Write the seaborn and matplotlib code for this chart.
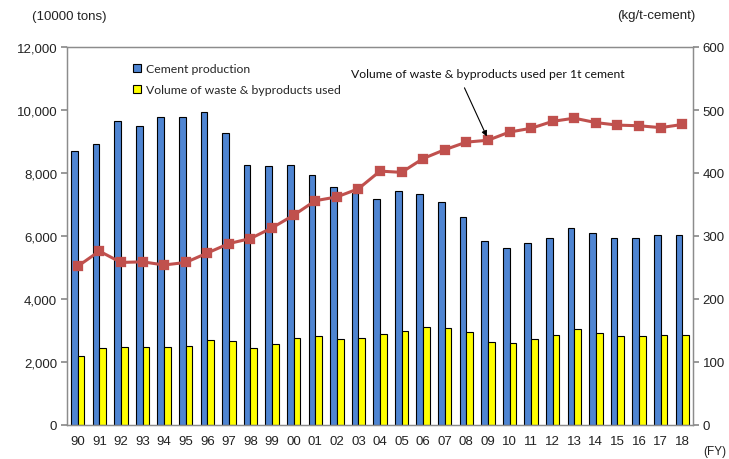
import numpy as np
import pandas as pd
import matplotlib
matplotlib.use("Agg")
import matplotlib.pyplot as plt
import seaborn as sns
from matplotlib.patches import Patch
from matplotlib.ticker import FuncFormatter

years = ["90", "91", "92", "93", "94", "95", "96", "97", "98", "99",
         "00", "01", "02", "03", "04", "05", "06", "07", "08", "09",
         "10", "11", "12", "13", "14", "15", "16", "17", "18"]
cement_production = [8700, 8910, 9640, 9500, 9790, 9770, 9950, 9280, 8260, 8230,
                     8250, 7930, 7560, 7370, 7180, 7420, 7330, 7080, 6610, 5850,
                     5620, 5770, 5950, 6240, 6110, 5940, 5940, 6040, 6030]
waste_used = [2190, 2440, 2490, 2470, 2490, 2520, 2710, 2680, 2440, 2570,
              2750, 2815, 2740, 2770, 2900, 2975, 3100, 3080, 2960, 2650,
              2615, 2720, 2870, 3035, 2930, 2815, 2815, 2845, 2870]
per_ton = [252, 276, 258, 259, 254, 258, 273, 288, 296, 313,
           333, 356, 362, 375, 403, 401, 423, 437, 449, 452,
           465, 471, 482, 487, 480, 476, 475, 472, 477]
series_names = ["Cement production", "Volume of waste & byproducts used"]
line_name = "Volume of waste & byproducts used per 1t cement"
left_unit = "(10000 tons)"
right_unit = "(kg/t-cement)"
x_unit = "(FY)"

blue = "#4F85D2"
yellow = "#FFFF00"
red = "#C0504D"
spine_gray = "#8C8C8C"

sns.set_theme(style="white")
plt.rcParams["font.family"] = ["Liberation Sans", "DejaVu Sans"]

W, H = 729, 460
fig = plt.figure(figsize=(W / 100, H / 100), dpi=100)
L, R, T, B = 67, 693, 48, 426
ax = fig.add_axes([L / W, 1 - B / H, (R - L) / W, (B - T) / H])

df = pd.DataFrame({
    "year": years * 2,
    "value": cement_production + waste_used,
    "series": [series_names[0]] * len(years) + [series_names[1]] * len(years),
})
sns.barplot(data=df, x="year", y="value", hue="series", order=years,
            hue_order=series_names, palette=[blue, yellow], saturation=1,
            width=0.62, edgecolor="black", linewidth=0.8, ax=ax, legend=False)

ax.set_ylim(0, 12000)
ax.set_yticks(range(0, 12001, 2000))
ax.yaxis.set_major_formatter(FuncFormatter(lambda v, p: f"{v:,.0f}"))
ax.set_xlabel("")
ax.set_ylabel("")
ax.set_xlim(-0.5, len(years) - 0.5)
ax.tick_params(axis="x", which="major", length=0, labelsize=9.5, pad=7, colors="#222222")
ax.set_xticks(np.arange(0.5, len(years) - 1, 1), minor=True)
ax.tick_params(axis="x", which="minor", direction="in", length=3, color=spine_gray)
ax.tick_params(axis="y", direction="out", length=4, color=spine_gray, labelsize=9.5,
               labelcolor="#222222", pad=3, left=True)

ax2 = ax.twinx()
sns.pointplot(x=years, y=per_ton, order=years, color=red, markers="s",
              linestyles="-", errorbar=None, markersize=5.8, linewidth=2.2, ax=ax2)
ax2.set_ylim(0, 600)
ax2.set_yticks(range(0, 601, 100))
ax2.set_ylabel("")
ax2.set_xlim(-0.5, len(years) - 0.5)
ax2.tick_params(axis="y", direction="out", length=4, color=spine_gray, labelsize=9.5,
                labelcolor="#222222", pad=3, right=True)

for a in (ax, ax2):
    for s in a.spines.values():
        s.set_color(spine_gray)
        s.set_linewidth(0.9)

ax2.annotate(line_name, xy=(19, per_ton[19] + 2), xycoords="data",
             xytext=(488 / W, 1 - 75 / H), textcoords="figure fraction",
             ha="center", va="center", fontsize=8.8, color="#111111",
             fontfamily=["Lato", "DejaVu Sans"],
             arrowprops=dict(arrowstyle="-|>", color="black", lw=0.8,
                             shrinkA=4, shrinkB=2, relpos=(0.4, 0.0),
                             mutation_scale=8))

handles = [Patch(facecolor=blue, edgecolor="black", linewidth=0.8),
           Patch(facecolor=yellow, edgecolor="black", linewidth=0.8)]
ax2.legend(handles, series_names, loc="upper left",
           bbox_to_anchor=(133 / W, 1 - 64 / H), bbox_transform=fig.transFigure,
           frameon=False, handlelength=0.65, handleheight=0.65, handletextpad=0.45,
           labelspacing=0.85, borderpad=0, borderaxespad=0,
           prop={"family": ["Lato", "DejaVu Sans"], "size": 8.8})

fig.text(32 / W, 1 - 17 / H, left_unit, ha="left", va="center", fontsize=9.5, color="#222222")
fig.text(695 / W, 1 - 16 / H, right_unit, ha="right", va="center", fontsize=9.5, color="#222222")
fig.text(703 / W, 1 - 452 / H, x_unit, ha="left", va="center", fontsize=8.5, color="#222222")

fig.savefig("out.png", dpi=100)
